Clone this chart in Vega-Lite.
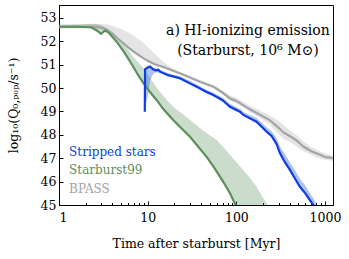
{
  "$schema": "https://vega.github.io/schema/vega-lite/v6.json",
  "width": 274,
  "height": 200,
  "autosize": {"type": "none"},
  "padding": {"left": 59, "top": 5, "right": 16, "bottom": 54},
  "background": "white",
  "config": {
    "view": {"stroke": "black", "strokeWidth": 1},
    "font": "DejaVu Serif",
    "axis": {
      "domainColor": "black",
      "tickColor": "black",
      "labelColor": "black",
      "titleColor": "black",
      "labelFont": "DejaVu Serif",
      "titleFont": "DejaVu Serif",
      "titleFontWeight": "normal",
      "labelOverlap": false,
      "grid": false
    },
    "text": {"font": "DejaVu Serif"}
  },
  "datasets": {
    "lines": [
      {"series": "BPASS", "t": 1, "v": 52.62},
      {"series": "BPASS", "t": 2, "v": 52.62},
      {"series": "BPASS", "t": 2.6, "v": 52.62},
      {"series": "BPASS", "t": 3, "v": 52.58},
      {"series": "BPASS", "t": 3.5, "v": 52.48},
      {"series": "BPASS", "t": 4, "v": 52.33},
      {"series": "BPASS", "t": 4.5, "v": 52.15},
      {"series": "BPASS", "t": 5, "v": 52.0},
      {"series": "BPASS", "t": 6, "v": 51.75},
      {"series": "BPASS", "t": 7, "v": 51.55},
      {"series": "BPASS", "t": 8, "v": 51.4},
      {"series": "BPASS", "t": 9, "v": 51.27},
      {"series": "BPASS", "t": 10, "v": 51.17},
      {"series": "BPASS", "t": 12, "v": 51.02},
      {"series": "BPASS", "t": 15, "v": 50.9},
      {"series": "BPASS", "t": 20, "v": 50.72},
      {"series": "BPASS", "t": 25, "v": 50.58},
      {"series": "BPASS", "t": 30, "v": 50.45},
      {"series": "BPASS", "t": 40, "v": 50.25},
      {"series": "BPASS", "t": 55, "v": 50.06},
      {"series": "BPASS", "t": 70, "v": 49.8},
      {"series": "BPASS", "t": 85, "v": 49.55},
      {"series": "BPASS", "t": 100, "v": 49.45},
      {"series": "BPASS", "t": 142, "v": 49.09},
      {"series": "BPASS", "t": 180, "v": 48.88},
      {"series": "BPASS", "t": 240, "v": 48.62},
      {"series": "BPASS", "t": 300, "v": 48.3},
      {"series": "BPASS", "t": 340, "v": 48.1},
      {"series": "BPASS", "t": 400, "v": 47.95},
      {"series": "BPASS", "t": 480, "v": 47.75},
      {"series": "BPASS", "t": 570, "v": 47.5},
      {"series": "BPASS", "t": 700, "v": 47.3},
      {"series": "BPASS", "t": 880, "v": 47.15},
      {"series": "BPASS", "t": 1000, "v": 47.05},
      {"series": "BPASS", "t": 1230, "v": 47.0},
      {"series": "Starburst99", "t": 1, "v": 52.62},
      {"series": "Starburst99", "t": 1.5, "v": 52.62},
      {"series": "Starburst99", "t": 2.3, "v": 52.6},
      {"series": "Starburst99", "t": 2.7, "v": 52.45},
      {"series": "Starburst99", "t": 2.98, "v": 52.32},
      {"series": "Starburst99", "t": 3.3, "v": 52.46},
      {"series": "Starburst99", "t": 3.6, "v": 52.38},
      {"series": "Starburst99", "t": 4.47, "v": 51.98},
      {"series": "Starburst99", "t": 5.55, "v": 51.48},
      {"series": "Starburst99", "t": 6.88, "v": 50.91},
      {"series": "Starburst99", "t": 7.78, "v": 50.56},
      {"series": "Starburst99", "t": 9, "v": 50.2},
      {"series": "Starburst99", "t": 10.5, "v": 49.85},
      {"series": "Starburst99", "t": 12.6, "v": 49.49},
      {"series": "Starburst99", "t": 15, "v": 49.1},
      {"series": "Starburst99", "t": 19.4, "v": 48.63},
      {"series": "Starburst99", "t": 24, "v": 48.28},
      {"series": "Starburst99", "t": 30, "v": 47.92},
      {"series": "Starburst99", "t": 37, "v": 47.5},
      {"series": "Starburst99", "t": 46.2, "v": 47.06},
      {"series": "Starburst99", "t": 55, "v": 46.65},
      {"series": "Starburst99", "t": 65.3, "v": 46.21},
      {"series": "Starburst99", "t": 75, "v": 45.85},
      {"series": "Starburst99", "t": 84.7, "v": 45.5},
      {"series": "Starburst99", "t": 96, "v": 45.07},
      {"series": "Starburst99", "t": 102, "v": 44.85},
      {"series": "Stripped stars", "t": 9.28, "v": 48.99},
      {"series": "Stripped stars", "t": 9.34, "v": 50.8},
      {"series": "Stripped stars", "t": 10, "v": 50.88},
      {"series": "Stripped stars", "t": 10.6, "v": 50.92},
      {"series": "Stripped stars", "t": 11.5, "v": 50.8},
      {"series": "Stripped stars", "t": 12.3, "v": 50.76},
      {"series": "Stripped stars", "t": 13.2, "v": 50.78},
      {"series": "Stripped stars", "t": 13.8, "v": 50.7},
      {"series": "Stripped stars", "t": 17, "v": 50.55},
      {"series": "Stripped stars", "t": 23.1, "v": 50.42},
      {"series": "Stripped stars", "t": 30, "v": 50.2},
      {"series": "Stripped stars", "t": 35.7, "v": 50.06},
      {"series": "Stripped stars", "t": 45, "v": 49.85},
      {"series": "Stripped stars", "t": 55, "v": 49.7},
      {"series": "Stripped stars", "t": 70, "v": 49.48},
      {"series": "Stripped stars", "t": 84.7, "v": 49.2},
      {"series": "Stripped stars", "t": 110, "v": 48.99},
      {"series": "Stripped stars", "t": 120, "v": 48.85},
      {"series": "Stripped stars", "t": 169, "v": 48.56},
      {"series": "Stripped stars", "t": 220, "v": 48.13},
      {"series": "Stripped stars", "t": 250, "v": 47.95},
      {"series": "Stripped stars", "t": 285, "v": 47.6},
      {"series": "Stripped stars", "t": 310, "v": 47.22},
      {"series": "Stripped stars", "t": 350, "v": 46.85},
      {"series": "Stripped stars", "t": 402, "v": 46.5},
      {"series": "Stripped stars", "t": 460, "v": 46.12},
      {"series": "Stripped stars", "t": 521, "v": 45.78},
      {"series": "Stripped stars", "t": 600, "v": 45.5},
      {"series": "Stripped stars", "t": 676, "v": 45.21},
      {"series": "Stripped stars", "t": 736, "v": 45.0},
      {"series": "Stripped stars", "t": 800, "v": 44.8}
    ],
    "bands": [
      {"series": "BPASS", "t": 1, "v": 52.55, "hi": 52.72},
      {"series": "BPASS", "t": 2, "v": 52.55, "hi": 52.74},
      {"series": "BPASS", "t": 3, "v": 52.52, "hi": 52.74},
      {"series": "BPASS", "t": 3.5, "v": 52.43, "hi": 52.72},
      {"series": "BPASS", "t": 4, "v": 52.28, "hi": 52.66},
      {"series": "BPASS", "t": 5, "v": 51.95, "hi": 52.52},
      {"series": "BPASS", "t": 6, "v": 51.7, "hi": 52.38},
      {"series": "BPASS", "t": 7, "v": 51.5, "hi": 52.22},
      {"series": "BPASS", "t": 8, "v": 51.35, "hi": 52.07},
      {"series": "BPASS", "t": 9, "v": 51.22, "hi": 51.92},
      {"series": "BPASS", "t": 10, "v": 51.12, "hi": 51.77},
      {"series": "BPASS", "t": 12, "v": 50.97, "hi": 51.47},
      {"series": "BPASS", "t": 15, "v": 50.85, "hi": 51.12},
      {"series": "BPASS", "t": 18, "v": 50.75, "hi": 50.9},
      {"series": "BPASS", "t": 22, "v": 50.63, "hi": 50.72},
      {"series": "BPASS", "t": 30, "v": 50.4, "hi": 50.52},
      {"series": "BPASS", "t": 40, "v": 50.2, "hi": 50.32},
      {"series": "BPASS", "t": 55, "v": 50.0, "hi": 50.14},
      {"series": "BPASS", "t": 70, "v": 49.72, "hi": 49.9},
      {"series": "BPASS", "t": 85, "v": 49.45, "hi": 49.68},
      {"series": "BPASS", "t": 100, "v": 49.35, "hi": 49.58},
      {"series": "BPASS", "t": 140, "v": 49.0, "hi": 49.25},
      {"series": "BPASS", "t": 180, "v": 48.75, "hi": 49.05},
      {"series": "BPASS", "t": 240, "v": 48.42, "hi": 48.82},
      {"series": "BPASS", "t": 300, "v": 48.02, "hi": 48.6},
      {"series": "BPASS", "t": 340, "v": 47.82, "hi": 48.42},
      {"series": "BPASS", "t": 400, "v": 47.7, "hi": 48.2},
      {"series": "BPASS", "t": 480, "v": 47.5, "hi": 47.98},
      {"series": "BPASS", "t": 570, "v": 47.3, "hi": 47.72},
      {"series": "BPASS", "t": 700, "v": 47.15, "hi": 47.47},
      {"series": "BPASS", "t": 880, "v": 46.98, "hi": 47.3},
      {"series": "BPASS", "t": 1000, "v": 46.93, "hi": 47.2},
      {"series": "BPASS", "t": 1230, "v": 46.88, "hi": 47.12},
      {"series": "Starburst99", "t": 1, "v": 52.58, "hi": 52.7},
      {"series": "Starburst99", "t": 2, "v": 52.58, "hi": 52.73},
      {"series": "Starburst99", "t": 2.3, "v": 52.56, "hi": 52.75},
      {"series": "Starburst99", "t": 2.7, "v": 52.4, "hi": 52.74},
      {"series": "Starburst99", "t": 2.98, "v": 52.28, "hi": 52.68},
      {"series": "Starburst99", "t": 3.3, "v": 52.42, "hi": 52.6},
      {"series": "Starburst99", "t": 3.6, "v": 52.34, "hi": 52.52},
      {"series": "Starburst99", "t": 4.47, "v": 51.94, "hi": 52.22},
      {"series": "Starburst99", "t": 5.55, "v": 51.44, "hi": 51.85},
      {"series": "Starburst99", "t": 6.6, "v": 51.0, "hi": 51.42},
      {"series": "Starburst99", "t": 7.78, "v": 50.52, "hi": 51.1},
      {"series": "Starburst99", "t": 9, "v": 50.16, "hi": 50.85},
      {"series": "Starburst99", "t": 11, "v": 49.7, "hi": 50.35},
      {"series": "Starburst99", "t": 13, "v": 49.4, "hi": 49.95},
      {"series": "Starburst99", "t": 16.4, "v": 48.9, "hi": 49.49},
      {"series": "Starburst99", "t": 20, "v": 48.55, "hi": 49.15},
      {"series": "Starburst99", "t": 25, "v": 48.2, "hi": 48.88},
      {"series": "Starburst99", "t": 30, "v": 47.88, "hi": 48.63},
      {"series": "Starburst99", "t": 40, "v": 47.35, "hi": 48.25},
      {"series": "Starburst99", "t": 50, "v": 46.9, "hi": 47.98},
      {"series": "Starburst99", "t": 60, "v": 46.42, "hi": 47.78},
      {"series": "Starburst99", "t": 75, "v": 45.8, "hi": 47.38},
      {"series": "Starburst99", "t": 90, "v": 45.3, "hi": 47.03},
      {"series": "Starburst99", "t": 102, "v": 44.8, "hi": 46.8},
      {"series": "Starburst99", "t": 140, "v": 44.0, "hi": 46.2},
      {"series": "Starburst99", "t": 169, "v": 44.0, "hi": 45.78},
      {"series": "Starburst99", "t": 200, "v": 44.0, "hi": 45.3},
      {"series": "Starburst99", "t": 220, "v": 44.0, "hi": 45.07},
      {"series": "Starburst99", "t": 240, "v": 44.0, "hi": 44.75},
      {"series": "Stripped stars", "t": 9.3, "v": 49.3, "hi": 49.5},
      {"series": "Stripped stars", "t": 9.6, "v": 49.4, "hi": 50.85},
      {"series": "Stripped stars", "t": 10, "v": 49.6, "hi": 50.92},
      {"series": "Stripped stars", "t": 10.6, "v": 50.3, "hi": 50.96},
      {"series": "Stripped stars", "t": 11.5, "v": 50.6, "hi": 50.88},
      {"series": "Stripped stars", "t": 12.3, "v": 50.68, "hi": 50.84},
      {"series": "Stripped stars", "t": 13.8, "v": 50.64, "hi": 50.78},
      {"series": "Stripped stars", "t": 17, "v": 50.5, "hi": 50.63},
      {"series": "Stripped stars", "t": 23.1, "v": 50.37, "hi": 50.5},
      {"series": "Stripped stars", "t": 30, "v": 50.15, "hi": 50.3},
      {"series": "Stripped stars", "t": 35.7, "v": 50.0, "hi": 50.15},
      {"series": "Stripped stars", "t": 45, "v": 49.8, "hi": 49.95},
      {"series": "Stripped stars", "t": 55, "v": 49.65, "hi": 49.8},
      {"series": "Stripped stars", "t": 70, "v": 49.42, "hi": 49.58},
      {"series": "Stripped stars", "t": 85, "v": 49.15, "hi": 49.32},
      {"series": "Stripped stars", "t": 110, "v": 48.93, "hi": 49.1},
      {"series": "Stripped stars", "t": 120, "v": 48.8, "hi": 48.98},
      {"series": "Stripped stars", "t": 169, "v": 48.5, "hi": 48.72},
      {"series": "Stripped stars", "t": 220, "v": 48.07, "hi": 48.32},
      {"series": "Stripped stars", "t": 250, "v": 47.88, "hi": 48.15},
      {"series": "Stripped stars", "t": 285, "v": 47.5, "hi": 47.85},
      {"series": "Stripped stars", "t": 310, "v": 47.15, "hi": 47.5},
      {"series": "Stripped stars", "t": 350, "v": 46.8, "hi": 47.2},
      {"series": "Stripped stars", "t": 402, "v": 46.43, "hi": 46.82},
      {"series": "Stripped stars", "t": 460, "v": 46.05, "hi": 46.48},
      {"series": "Stripped stars", "t": 521, "v": 45.72, "hi": 46.12},
      {"series": "Stripped stars", "t": 600, "v": 45.43, "hi": 45.82},
      {"series": "Stripped stars", "t": 676, "v": 45.14, "hi": 45.5},
      {"series": "Stripped stars", "t": 736, "v": 44.93, "hi": 45.3},
      {"series": "Stripped stars", "t": 800, "v": 44.73, "hi": 45.08},
      {"series": "Stripped stars", "t": 850, "v": 44.6, "hi": 44.9}
    ],
    "legendText": [
      {"series": "Stripped stars", "label": "Stripped stars", "t": 1.3, "v": 47.26},
      {"series": "Starburst99", "label": "Starburst99", "t": 1.3, "v": 46.5},
      {"series": "BPASS", "label": "BPASS", "t": 1.3, "v": 45.68}
    ],
    "notes": [
      {"label": "a) HI-ionizing emission", "t": 135, "v": 52.42},
      {"label": "(Starburst, 10⁶ M⊙)", "t": 135, "v": 51.6}
    ]
  },
  "encoding": {
    "x": {
      "field": "t", "type": "quantitative",
      "scale": {"type": "log", "domain": [1, 1230], "nice": false},
      "axis": {
        "values": [1,2,3,4,5,6,7,8,9,10,20,30,40,50,60,70,80,90,100,200,300,400,500,600,700,800,900,1000],
        "format": "d",
        "labelExpr": "indexof([1,10,100,1000], datum.value) >= 0 ? datum.label : ''",
        "tickSize": {"condition": {"test": "indexof([1,10,100,1000], datum.value) >= 0", "value": -4}, "value": -2.5},
        "labelFontSize": 12.5,
        "labelPadding": 10,
        "title": "Time after starburst [Myr]",
        "titleFontSize": 12.5,
        "titlePadding": 12
      }
    },
    "y": {
      "field": "v", "type": "quantitative",
      "scale": {"domain": [45, 53.55], "nice": false, "zero": false},
      "axis": {
        "values": [45,46,47,48,49,50,51,52,53],
        "tickSize": -4,
        "labelFontSize": 12.5,
        "labelPadding": 7,
        "labelOverlap": false,
        "title": "log₁₀(Q₀,ₚₒₚ/s⁻¹)",
        "titleFontSize": 12.5,
        "titlePadding": 20
      }
    }
  },
  "layer": [
    {
      "data": {"name": "bands"},
      "mark": {"type": "area", "clip": true, "interpolate": "linear"},
      "encoding": {
        "y2": {"field": "hi"},
        "color": {
          "field": "series", "type": "nominal",
          "scale": {"domain": ["BPASS", "Starburst99", "Stripped stars"], "range": ["#a4a4a4", "#5b8f5b", "#0c3ee2"]},
          "legend": null
        },
        "opacity": {
          "field": "series", "type": "nominal",
          "scale": {"domain": ["BPASS", "Starburst99", "Stripped stars"], "range": [0.3, 0.32, 0.45]},
          "legend": null
        }
      }
    },
    {
      "data": {"name": "lines"},
      "mark": {"type": "line", "clip": true, "interpolate": "linear"},
      "encoding": {
        "color": {"field": "series", "type": "nominal", "legend": null},
        "strokeWidth": {
          "field": "series", "type": "nominal",
          "scale": {"domain": ["BPASS", "Starburst99", "Stripped stars"], "range": [2.2, 2.2, 2.6]},
          "legend": null
        }
      }
    },
    {
      "data": {"name": "legendText"},
      "mark": {"type": "text", "align": "left", "baseline": "middle", "fontSize": 12},
      "encoding": {
        "text": {"field": "label"},
        "color": {"field": "series", "type": "nominal", "legend": null}
      }
    },
    {
      "data": {"name": "notes"},
      "mark": {"type": "text", "align": "center", "baseline": "middle", "fontSize": 14, "color": "black"},
      "encoding": {
        "text": {"field": "label"}
      }
    }
  ]
}
